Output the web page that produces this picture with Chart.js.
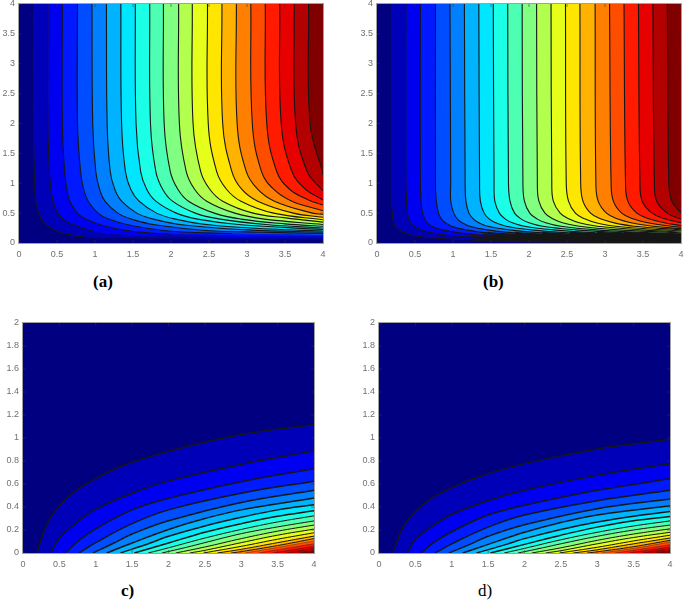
<!DOCTYPE html>
<html>
<head>
<meta charset="utf-8">
<title>Contours</title>
<script src="https://cdn.jsdelivr.net/npm/chart.js@4"></script>
<style>
    html, body { margin: 0; padding: 0; background: #fff; overflow: hidden; width: 685px; height: 600px; }
    canvas { position: absolute; filter: blur(0.6px); }
    .panel-label { position: absolute; font-family: "Liberation Serif", serif; font-size: 17px; color: #000; line-height: 20px; }
    .bold { font-weight: bold; }
</style>
</head>
<body>
<canvas id="panel-a" style="left:0;top:0"></canvas>
<canvas id="panel-b" style="left:358px;top:0"></canvas>
<canvas id="panel-c" style="left:0;top:319px"></canvas>
<canvas id="panel-d" style="left:356px;top:319px"></canvas>
<div class="panel-label bold" style="left:93px;top:272px">(a)</div>
<div class="panel-label bold" style="left:483px;top:272px">(b)</div>
<div class="panel-label bold" style="left:121px;top:581px">c)</div>
<div class="panel-label" style="left:478px;top:581px">d)</div>
<script>
const ticksWide = [0, 0.5, 1, 1.5, 2, 2.5, 3, 3.5, 4];
const ticksTall = [0, 0.2, 0.4, 0.6, 0.8, 1, 1.2, 1.4, 1.6, 1.8, 2];

const bandColors = [
    '#000080', '#0000B8', '#0000F0', '#0019FF', '#004DFF', '#0080FF', '#00B3FF',
    '#00E6FF', '#1AFFE6', '#4DFFB3', '#80FF80', '#B3FF4D', '#E6FF1A', '#FFE600',
    '#FFB300', '#FF8000', '#FF4D00', '#FF1A00', '#E60000', '#B30000', '#800000'
];

// contour lines, [x, y], lowest level first
const linesA = [
    [[.19,4],[.19,2],[.2,1.2],[.21,.9],[.22,.7],[.26,.5],[.29,.4],[.36,.3],[.49,.2],[.66,.14],[.86,.1],[1.6,.08],[2.6,.065],[4,.05]],
    [[.38,4],[.38,2],[.4,1.2],[.42,.9],[.45,.7],[.51,.5],[.58,.4],[.72,.3],[.97,.2],[1.31,.14],[2.2,.11],[3,.09],[4,.08]],
    [[.57,4],[.57,2],[.6,1.2],[.63,.9],[.67,.7],[.77,.5],[.88,.4],[1.08,.3],[1.46,.2],[2,.15],[3,.125],[4,.11]],
    [[.77,4],[.77,2],[.81,1.2],[.85,.9],[.91,.7],[1.04,.5],[1.18,.4],[1.45,.3],[1.97,.2],[2.8,.16],[4,.135]],
    [[.96,4],[.97,2],[1.01,1.2],[1.06,.9],[1.13,.7],[1.3,.5],[1.48,.4],[1.81,.3],[2.46,.21],[3.2,.18],[4,.16]],
    [[1.15,4],[1.16,2],[1.2,1.2],[1.26,.9],[1.35,.7],[1.55,.5],[1.77,.4],[2.17,.3],[3,.22],[4,.18]],
    [[1.34,4],[1.35,2],[1.4,1.2],[1.47,.9],[1.58,.7],[1.81,.5],[2.06,.4],[2.53,.3],[3.3,.235],[4,.2]],
    [[1.53,4],[1.54,2],[1.6,1.2],[1.68,.9],[1.8,.7],[2.07,.5],[2.35,.4],[2.89,.31],[4,.225]],
    [[1.72,4],[1.73,2],[1.8,1.2],[1.89,.9],[2.02,.7],[2.32,.5],[2.65,.4],[3.25,.31],[4,.25]],
    [[1.9,4],[1.91,2],[1.99,1.2],[2.09,.9],[2.23,.7],[2.57,.5],[2.92,.4],[3.5,.32],[4,.28]],
    [[2.1,4],[2.11,2],[2.2,1.2],[2.31,.9],[2.47,.7],[2.84,.5],[3.23,.4],[4,.31]],
    [[2.28,4],[2.29,2],[2.39,1.2],[2.51,.9],[2.68,.7],[3.08,.5],[3.51,.42],[4,.35]],
    [[2.48,4],[2.49,2],[2.6,1.2],[2.73,.9],[2.92,.7],[3.35,.5],[4,.39]],
    [[2.67,4],[2.68,2],[2.8,1.2],[2.93,.9],[3.14,.7],[3.61,.5],[4,.43]],
    [[2.86,4],[2.87,2],[2.99,1.2],[3.14,.9],[3.36,.7],[3.86,.5],[4,.48]],
    [[3.05,4],[3.07,2],[3.19,1.2],[3.35,.9],[3.59,.7],[4,.54]],
    [[3.24,4],[3.26,2],[3.39,1.2],[3.56,.9],[3.81,.72],[4,.635]],
    [[3.43,4],[3.45,2],[3.59,1.2],[3.77,.9],[4,.72]],
    [[3.62,4],[3.64,2],[3.79,1.2],[3.98,.9],[4,.875]],
    [[3.81,4],[3.83,2],[3.99,1.2],[4,1.14]]
];

const linesB = [
    [[.19,4],[.19,1],[.19,.7],[.2,.5],[.21,.4],[.22,.34],[.24,.28],[.29,.22],[.36,.17],[.46,.13],[.61,.1],[.9,.07],[1.27,.05],[2.11,.03],[4,.016]],
    [[.38,4],[.38,1],[.39,.7],[.4,.5],[.42,.4],[.44,.34],[.48,.28],[.58,.22],[.72,.17],[.93,.13],[1.23,.1],[1.81,.07],[2.53,.05],[4,.032]],
    [[.57,4],[.57,1],[.58,.7],[.6,.5],[.63,.4],[.66,.34],[.72,.28],[.86,.22],[1.08,.17],[1.39,.13],[1.84,.1],[2.71,.07],[4,.048]],
    [[.77,4],[.77,1],[.78,.7],[.81,.5],[.85,.4],[.9,.34],[.98,.28],[1.17,.22],[1.45,.17],[1.88,.13],[2.48,.1],[4,.064]],
    [[.96,4],[.97,1],[.97,.7],[1.01,.5],[1.06,.4],[1.12,.34],[1.22,.28],[1.45,.22],[1.81,.17],[2.34,.13],[3.1,.1],[4,.078]],
    [[1.15,4],[1.16,1],[1.17,.7],[1.21,.5],[1.27,.4],[1.34,.34],[1.46,.28],[1.74,.22],[2.17,.17],[2.81,.13],[4,.093]],
    [[1.34,4],[1.35,1],[1.36,.7],[1.41,.5],[1.48,.4],[1.56,.34],[1.7,.28],[2.03,.22],[2.53,.17],[3.27,.13],[4,.108]],
    [[1.53,4],[1.54,1],[1.55,.7],[1.61,.5],[1.69,.4],[1.78,.34],[1.94,.28],[2.32,.22],[2.89,.17],[4,.123]],
    [[1.72,4],[1.73,1],[1.75,.7],[1.81,.5],[1.9,.4],[2,.34],[2.18,.28],[2.61,.22],[3.25,.17],[4,.137]],
    [[1.91,4],[1.92,1],[1.94,.7],[2.01,.5],[2.11,.4],[2.22,.34],[2.42,.28],[2.89,.22],[3.6,.17],[4,.153]],
    [[2.1,4],[2.11,1],[2.13,.7],[2.21,.5],[2.32,.4],[2.44,.34],[2.66,.28],[3.18,.22],[4,.168]],
    [[2.29,4],[2.3,1],[2.32,.7],[2.41,.5],[2.53,.4],[2.66,.34],[2.9,.28],[3.47,.22],[4,.185]],
    [[2.48,4],[2.49,1],[2.52,.7],[2.61,.5],[2.74,.4],[2.88,.34],[3.14,.28],[3.76,.22],[4,.205]],
    [[2.67,4],[2.68,1],[2.71,.7],[2.81,.5],[2.95,.4],[3.11,.34],[3.38,.28],[4,.222]],
    [[2.87,4],[2.88,1],[2.91,.7],[3.02,.5],[3.17,.4],[3.34,.34],[3.63,.28],[4,.24]],
    [[3.06,4],[3.08,1],[3.11,.7],[3.22,.5],[3.38,.4],[3.56,.34],[3.87,.28],[4,.265]],
    [[3.25,4],[3.27,1],[3.3,.7],[3.42,.5],[3.59,.4],[3.78,.34],[4,.29]],
    [[3.44,4],[3.46,1],[3.49,.7],[3.62,.5],[3.8,.4],[4,.34]],
    [[3.63,4],[3.65,1],[3.68,.7],[3.82,.5],[4,.4]],
    [[3.82,4],[3.84,1],[3.88,.7],[4,.5]]
];

const linesC = [
    [[.19,0],[.25,.12],[.3,.21],[.41,.34],[.64,.5],[.87,.6],[1.33,.75],[2,.885],[3,1.03],[4,1.117]],
    [[.385,0],[.5,.13],[.75,.27],[1,.38],[1.5,.52],[2,.625],[3,.77],[4,.886]],
    [[.58,0],[.75,.1],[1,.21],[1.5,.375],[2,.475],[3,.62],[4,.733]],
    [[.77,0],[1,.09],[1.5,.255],[2,.375],[3,.52],[4,.625]],
    [[.96,0],[1.25,.087],[1.5,.165],[2,.28],[3,.44],[4,.545]],
    [[1.15,0],[1.5,.087],[2,.205],[2.5,.3],[3,.375],[4,.478]],
    [[1.34,0],[1.75,.087],[2,.145],[2.5,.235],[3,.31],[3.5,.375],[4,.42]],
    [[1.53,0],[2,.087],[2.5,.18],[3,.255],[3.5,.32],[4,.367]],
    [[1.72,0],[2,.045],[2.5,.13],[3,.205],[3.5,.27],[4,.323]],
    [[1.91,0],[2.25,.05],[2.5,.09],[3,.168],[3.5,.227],[4,.279]],
    [[2.1,0],[2.5,.052],[3,.125],[3.5,.19],[4,.243]],
    [[2.29,0],[2.5,.023],[3,.09],[3.5,.155],[4,.208]],
    [[2.48,0],[3,.058],[3.5,.12],[4,.176]],
    [[2.67,0],[3,.032],[3.5,.09],[4,.147]],
    [[2.86,0],[3,.012],[3.5,.065],[4,.125]],
    [[3.05,0],[3.5,.048],[4,.105]],
    [[3.24,0],[3.5,.028],[4,.08]],
    [[3.43,0],[4,.058]],
    [[3.62,0],[4,.04]],
    [[3.81,0],[4,.02]]
];

const linesD = [
    [[.19,0],[.25,.105],[.3,.185],[.41,.3],[.64,.44],[.87,.53],[1.33,.655],[2,.777],[3,.905],[4,.99]],
    [[.385,0],[.5,.115],[.75,.24],[1,.335],[1.5,.455],[2,.545],[3,.675],[4,.777]],
    [[.58,0],[.75,.09],[1,.185],[1.5,.33],[2,.415],[3,.545],[4,.645]],
    [[.77,0],[1,.08],[1.5,.225],[2,.33],[3,.455],[4,.545]],
    [[.96,0],[1.25,.075],[1.5,.145],[2,.245],[3,.385],[4,.47]],
    [[1.15,0],[1.5,.075],[2,.18],[2.5,.265],[3,.33],[4,.41]],
    [[1.34,0],[1.75,.075],[2,.125],[2.5,.205],[3,.27],[3.5,.32],[4,.36]],
    [[1.53,0],[2,.075],[2.5,.155],[3,.225],[3.5,.28],[4,.317]],
    [[1.72,0],[2,.04],[2.5,.115],[3,.18],[3.5,.235],[4,.279]],
    [[1.91,0],[2.25,.045],[2.5,.08],[3,.145],[3.5,.2],[4,.243]],
    [[2.1,0],[2.5,.045],[3,.11],[3.5,.165],[4,.21]],
    [[2.29,0],[2.5,.02],[3,.08],[3.5,.135],[4,.18]],
    [[2.48,0],[3,.05],[3.5,.105],[4,.155]],
    [[2.67,0],[3,.028],[3.5,.08],[4,.13]],
    [[2.86,0],[3,.01],[3.5,.055],[4,.11]],
    [[3.05,0],[3.5,.04],[4,.095]],
    [[3.24,0],[3.5,.024],[4,.072]],
    [[3.43,0],[4,.052]],
    [[3.62,0],[4,.036]],
    [[3.81,0],[4,.02]]
];

// paints the lowest band behind the fills, then the grey box and inward ticks above them
const framePlugin = {
    id: 'frame',
    beforeDatasetsDraw(chart) {
        const { ctx, chartArea: a } = chart;
        ctx.save();
        ctx.fillStyle = bandColors[0];
        ctx.fillRect(a.left, a.top, a.width, a.height);
        ctx.restore();
    },
    afterDatasetsDraw(chart) {
        const { ctx, chartArea: a, scales } = chart;
        ctx.save();
        ctx.strokeStyle = 'rgba(50,50,50,0.55)';
        ctx.lineWidth = 1;
        ctx.beginPath();
        scales.x.ticks.forEach((tick) => {
            const px = scales.x.getPixelForValue(tick.value);
            ctx.moveTo(px, a.top);
            ctx.lineTo(px, a.top + 3);
            ctx.moveTo(px, a.bottom);
            ctx.lineTo(px, a.bottom - 3);
        });
        scales.y.ticks.forEach((tick) => {
            const py = scales.y.getPixelForValue(tick.value);
            ctx.moveTo(a.left, py);
            ctx.lineTo(a.left + 3, py);
            ctx.moveTo(a.right, py);
            ctx.lineTo(a.right - 3, py);
        });
        ctx.stroke();
        ctx.strokeStyle = '#a0a0a0';
        ctx.strokeRect(a.left - 0.5, a.top - 0.5, a.width + 1, a.height + 1);
        ctx.restore();
    }
};

function axis(position, max, tickValues, thickness, padding) {
    return {
        type: 'linear',
        position,
        min: 0,
        max,
        border: { display: false },
        grid: { display: false, drawTicks: false },
        afterBuildTicks(scale) {
            scale.ticks = tickValues.map((value) => ({ value }));
        },
        afterFit(scale) {
            if (position === 'left') scale.width = thickness;
            else scale.height = thickness;
            scale.paddingLeft = 0;
            scale.paddingRight = 0;
            scale.paddingTop = 0;
            scale.paddingBottom = 0;
        },
        ticks: {
            color: '#707070',
            padding,
            maxRotation: 0,
            autoSkip: false,
            font: { family: '"Liberation Sans", Arial, sans-serif', size: 9 },
            callback: (value) => String(value)
        }
    };
}

function makePanel(id, lines, opts) {
    const canvas = document.getElementById(id);
    canvas.width = opts.left + opts.plotW + opts.right;
    canvas.height = opts.top + opts.plotH + 20;

    const points = lines.map((line) => line.map(([x, y]) => ({ x, y })));
    // fills first, the black lines stay on top of all of them
    const fills = points.map((data, i) => ({
        data,
        borderWidth: 0,
        backgroundColor: bandColors[i + 1],
        fill: opts.fill,
        pointRadius: 0,
        tension: 0.4,
        order: 100 - i
    }));
    const strokes = points.map((data, i) => ({
        data,
        borderColor: opts.lineColor(i),
        borderWidth: opts.lineWidth(i),
        fill: false,
        pointRadius: 0,
        tension: 0.4,
        segment: {
            borderColor: (ctx) => opts.segmentColor(ctx.p0.parsed, ctx.p1.parsed),
            borderWidth: (ctx) => opts.segmentWidth(ctx.p0.parsed, ctx.p1.parsed)
        },
        order: 50 - i
    }));

    new Chart(canvas, {
        type: 'line',
        data: { datasets: fills.concat(strokes) },
        options: {
            responsive: false,
            animation: false,
            layout: { padding: { top: opts.top, right: opts.right, left: 0, bottom: 0 } },
            plugins: { legend: { display: false }, tooltip: { enabled: false } },
            scales: {
                x: axis('bottom', 4, ticksWide, 20, 6),
                y: axis('left', opts.yMax, opts.yTicks, opts.left, 4)
            }
        },
        plugins: [framePlugin]
    });
}

document.addEventListener('DOMContentLoaded', () => {
    const solid = () => '#161616';
    const keep = () => undefined;
    // the lines melt into the colours along the bottom of (a) and in the corner of (c), (d)
    const fadeLow = (p0, p1) => (p1.y < 0.15 && p1.x > 1.2 ? 'rgba(22,22,22,0.22)' : undefined);
    const fadeLast = (i) => (i >= 15 ? 'rgba(22,22,22,0.4)' : '#161616');
    // in (b) they pile up into a black strip along the bottom
    const thickLow = (p0, p1) => (p1.y < 0.14 && p1.x > 1.5 ? 2.4 : undefined);
    const widthC = (i) => (i < 8 ? 1.5 : 1);

    makePanel('panel-a', linesA, { left: 19, right: 9, top: 4, plotW: 304, plotH: 239, yMax: 4, yTicks: ticksWide, fill: 'end', lineWidth: () => 1.1, lineColor: solid, segmentColor: fadeLow, segmentWidth: keep });
    makePanel('panel-b', linesB, { left: 19, right: 4, top: 4, plotW: 304, plotH: 239, yMax: 4, yTicks: ticksWide, fill: 'end', lineWidth: () => 1.1, lineColor: solid, segmentColor: keep, segmentWidth: thickLow });
    makePanel('panel-c', linesC, { left: 23, right: 9, top: 4, plotW: 291, plotH: 230, yMax: 2, yTicks: ticksTall, fill: 'start', lineWidth: widthC, lineColor: fadeLast, segmentColor: keep, segmentWidth: keep });
    makePanel('panel-d', linesD, { left: 23, right: 9, top: 4, plotW: 291, plotH: 230, yMax: 2, yTicks: ticksTall, fill: 'start', lineWidth: widthC, lineColor: fadeLast, segmentColor: keep, segmentWidth: keep });
});
</script>
</body>
</html>
